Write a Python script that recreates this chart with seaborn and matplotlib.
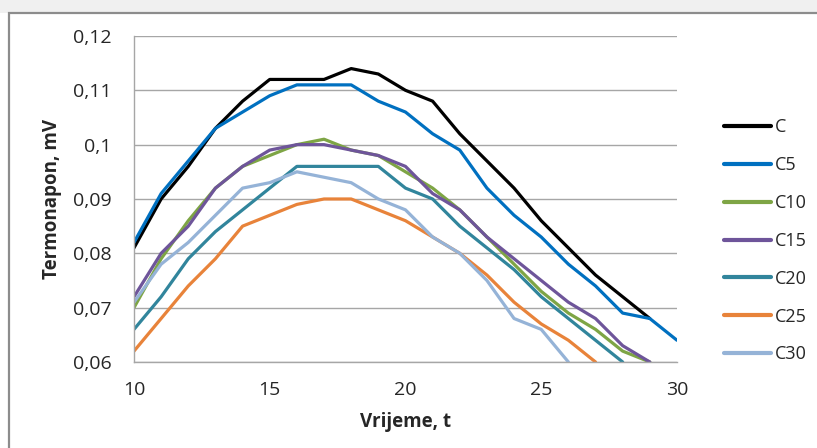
import numpy as np
import pandas as pd
import matplotlib
matplotlib.use("Agg")
import matplotlib.pyplot as plt
from matplotlib.patches import Rectangle
from matplotlib.ticker import FuncFormatter
import seaborn as sns

# vrijeme (x) i termonapon po uzorku, ocitano sa slike
vrijeme = list(range(10, 31))
nan = np.nan
C = [0.081, 0.090, 0.096, 0.103, 0.108, 0.112, 0.112, 0.112, 0.114, 0.113, 0.110,
     0.108, 0.102, 0.097, 0.092, 0.086, 0.081, 0.076, 0.072, 0.068, nan]
C5 = [0.082, 0.091, 0.097, 0.103, 0.106, 0.109, 0.111, 0.111, 0.111, 0.108, 0.106,
      0.102, 0.099, 0.092, 0.087, 0.083, 0.078, 0.074, 0.069, 0.068, 0.064]
C10 = [0.070, 0.079, 0.086, 0.092, 0.096, 0.098, 0.100, 0.101, 0.099, 0.098, 0.095,
       0.092, 0.088, 0.083, 0.078, 0.073, 0.069, 0.066, 0.062, 0.060, nan]
C15 = [0.072, 0.080, 0.085, 0.092, 0.096, 0.099, 0.100, 0.100, 0.099, 0.098, 0.096,
       0.091, 0.088, 0.083, 0.079, 0.075, 0.071, 0.068, 0.063, 0.060, nan]
C20 = [0.066, 0.072, 0.079, 0.084, 0.088, 0.092, 0.096, 0.096, 0.096, 0.096, 0.092,
       0.090, 0.085, 0.081, 0.077, 0.072, 0.068, 0.064, 0.060, nan, nan]
C25 = [0.062, 0.068, 0.074, 0.079, 0.085, 0.087, 0.089, 0.090, 0.090, 0.088, 0.086,
       0.083, 0.080, 0.076, 0.071, 0.067, 0.064, 0.060, nan, nan, nan]
C30 = [0.071, 0.078, 0.082, 0.087, 0.092, 0.093, 0.095, 0.094, 0.093, 0.090, 0.088,
       0.083, 0.080, 0.075, 0.068, 0.066, 0.060, nan, nan, nan, nan]

serije = ["C", "C5", "C10", "C15", "C20", "C25", "C30"]
boje = ["#000000", "#0070C0", "#7EA545", "#6E559A", "#31859C", "#E8833A", "#95B3D7"]

df = pd.DataFrame({"t": vrijeme, "C": C, "C5": C5, "C10": C10, "C15": C15,
                   "C20": C20, "C25": C25, "C30": C30})
df = df.melt(id_vars="t", var_name="uzorak", value_name="mV").dropna()

sns.set_style("white")
plt.rcParams["font.family"] = ["Open Sans", "DejaVu Sans"]

fig = plt.figure(figsize=(8.17, 4.48), dpi=100)

# okvir grafikona
fig.patches.append(Rectangle((0, 1 - 13 / 448), 1, 13 / 448, transform=fig.transFigure,
                             facecolor="#f0f0f0", edgecolor="none", zorder=-2))
fig.patches.append(Rectangle((9 / 817, -0.1), 1.2, 1.1 - 13 / 448, transform=fig.transFigure,
                             facecolor="white", edgecolor="#8c8c8c", linewidth=1.6, zorder=-1))

ax = fig.add_axes([0.164, 0.192, 0.6646, 0.7277])
ax.set_zorder(2)
ax.patch.set_alpha(0)

sns.lineplot(data=df, x="t", y="mV", hue="uzorak", hue_order=serije, palette=boje,
             estimator=None, linewidth=2.3, ax=ax, legend=False)

ax.set_xlim(10, 30)
ax.set_ylim(0.06, 0.12)
ax.set_xticks([10, 15, 20, 25, 30])
ax.set_yticks(np.arange(0.06, 0.1201, 0.01))
ax.yaxis.set_major_formatter(FuncFormatter(lambda v, p: ("%g" % round(v, 2)).replace(".", ",")))
ax.grid(axis="y", color="#a6a6a6", linewidth=1)
ax.set_axisbelow(True)
for s in ["top", "right"]:
    ax.spines[s].set_visible(False)
for s in ["left", "bottom"]:
    ax.spines[s].set_color("#a6a6a6")
    ax.spines[s].set_linewidth(1)
ax.tick_params(axis="both", length=0, labelsize=14, colors="#262626")
ax.tick_params(axis="y", pad=16)
ax.tick_params(axis="x", pad=14)
ax.set_xlabel("Vrijeme, t", fontsize=13.5, fontweight="bold", labelpad=9)
ax.set_ylabel("Termonapon, mV", fontsize=13.5, fontweight="bold", labelpad=8)

handles = [plt.Line2D([], [], color=c, linewidth=3) for c in boje]
fig.legend(handles, serije, loc="upper left", bbox_to_anchor=(0.877, 0.752),
           frameon=False, fontsize=13, handlelength=2.6, handletextpad=0.25,
           labelspacing=1.1, borderaxespad=0)

fig.savefig("out.png", dpi=100)
